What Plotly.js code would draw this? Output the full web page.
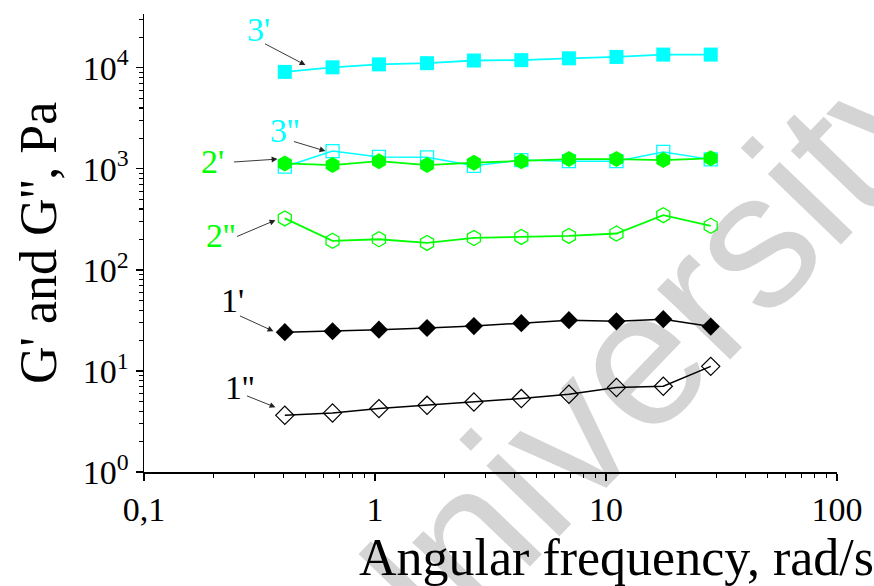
<!DOCTYPE html>
<html>
<head>
<meta charset="utf-8">
<script src="https://cdn.plot.ly/plotly-3.0.1.min.js"></script>
<style>
  html, body { margin: 0; padding: 0; background: #ffffff; }
  #wrap { position: relative; width: 874px; height: 586px; overflow: hidden; }
  #wm { position: absolute; left: 0; top: 0; z-index: 0; }
  #chart { position: absolute; left: 0; top: 0; width: 874px; height: 586px; z-index: 1; }
</style>
</head>
<body>
<div id="wrap">
<svg id="wm" width="874" height="586">
  <text x="380" y="722" transform="rotate(-46 380 722)" font-family="Liberation Sans, Arial, sans-serif" font-size="192" fill="#d4d4d4">University</text>
</svg>
<div id="chart"></div>
</div>
<script>
// Angular frequency, rad/s
const freq = [0.407, 0.655, 1.04, 1.68, 2.68, 4.30, 6.91, 11.1, 17.7, 28.4];
// Sample 1
const g1Storage = [24.2, 24.7, 25.6, 26.6, 27.8, 29.7, 31.8, 31.0, 32.5, 27.5];
const g1Loss    = [3.64, 3.84, 4.24, 4.57, 4.93, 5.33, 5.88, 6.85, 7.05, 11.1];
// Sample 2
const g2Storage = [1130, 1090, 1190, 1090, 1150, 1190, 1250, 1250, 1220, 1270];
const g2Loss    = [323, 194, 201, 185, 207, 212, 217, 229, 348, 273];
// Sample 3
const g3Storage = [9100, 10100, 10800, 11100, 11800, 11900, 12400, 12800, 13500, 13500];
const g3Loss    = [1050, 1500, 1310, 1300, 1070, 1220, 1190, 1190, 1470, 1240];

const xTickVals = [0.1, 1, 10, 100];
const xTickText = ['0,1', '1', '10', '100'];
const yTickVals = [1, 10, 100, 1000, 10000];
const yTickText = ['10<sup>0</sup>', '10<sup>1</sup>', '10<sup>2</sup>', '10<sup>3</sup>', '10<sup>4</sup>'];

const seriesLabels = ["1'", "1''", "2'", "2''", "3'", "3''"];

const CYAN = '#00FFFF', GREEN = '#00FF00', BLACK = '#000000';

function minorVals(fromExp, toExp) {
  const out = [];
  for (let e = fromExp; e < toExp; e++) {
    for (let m = 2; m <= 9; m++) out.push(m * Math.pow(10, e));
  }
  return out;
}

const traces = [
  { x: freq, y: g1Loss, name: seriesLabels[1], mode: 'lines+markers',
    line: { color: BLACK, width: 1.5 },
    marker: { symbol: 'diamond-open', size: 14, color: BLACK, line: { width: 1.2, color: BLACK } } },
  { x: freq, y: g1Storage, name: seriesLabels[0], mode: 'lines+markers',
    line: { color: BLACK, width: 1.5 },
    marker: { symbol: 'diamond', size: 14, color: BLACK } },
  { x: freq, y: g2Loss, name: seriesLabels[3], mode: 'lines+markers',
    line: { color: GREEN, width: 1.8 },
    marker: { symbol: 'hexagon-open', size: 15, color: GREEN, line: { width: 1.3, color: GREEN } } },
  { x: freq, y: g3Loss, name: seriesLabels[5], mode: 'lines+markers',
    line: { color: CYAN, width: 1.5 },
    marker: { symbol: 'square-open', size: 13, color: CYAN, line: { width: 1.3, color: CYAN } } },
  { x: freq, y: g2Storage, name: seriesLabels[2], mode: 'lines+markers',
    line: { color: GREEN, width: 1.8 },
    marker: { symbol: 'hexagon', size: 16, color: GREEN } },
  { x: freq, y: g3Storage, name: seriesLabels[4], mode: 'lines+markers',
    line: { color: CYAN, width: 1.8 },
    marker: { symbol: 'square', size: 14, color: CYAN } }
];

const serif = 'Liberation Serif, Times New Roman, serif';

// label positions (paper) and arrow tips (paper) with pixel tail offsets
const labelColors = [BLACK, BLACK, GREEN, GREEN, CYAN, CYAN];
const labelPos = [[0.1277, 0.3751], [0.1378, 0.1851], [0.0990, 0.6788], [0.1104, 0.5171], [0.1652, 0.9651], [0.2027, 0.7466]];
const arrowTip = [[0.1868, 0.3074], [0.1897, 0.1413], [0.1926, 0.6832], [0.1897, 0.5499], [0.2330, 0.8886], [0.2618, 0.7007]];
const arrowTail = [[-35, -16], [-30, -12], [-45, 3], [-40, 17], [-42, -22], [-33, -10]];

const annotations = [];
for (let i = 0; i < seriesLabels.length; i++) {
  annotations.push({
    xref: 'paper', yref: 'paper', x: labelPos[i][0], y: labelPos[i][1],
    text: seriesLabels[i], showarrow: false, xanchor: 'center', yanchor: 'middle',
    font: { family: serif, size: 34, color: labelColors[i] }
  });
  annotations.push({
    xref: 'paper', yref: 'paper', x: arrowTip[i][0], y: arrowTip[i][1],
    text: '', showarrow: true, ax: arrowTail[i][0], ay: arrowTail[i][1],
    arrowhead: 2, arrowsize: 1.3, arrowwidth: 0.9, arrowcolor: '#222222', standoff: 0, startstandoff: 0
  });
}
annotations.push({
  xref: 'paper', yref: 'paper', x: 0.6816, y: -0.186, xanchor: 'center', yanchor: 'middle',
  text: 'Angular frequency, rad/s', showarrow: false,
  font: { family: serif, size: 52, color: BLACK }
});
annotations.push({
  xref: 'paper', yref: 'paper', x: -0.153, y: 0.5, xanchor: 'center', yanchor: 'middle',
  text: "G' and G'', Pa", showarrow: false, textangle: -90,
  font: { family: serif, size: 52, color: BLACK }
});

const layout = {
  width: 874, height: 586,
  margin: { l: 144, r: 37, t: 14, b: 114 },
  paper_bgcolor: 'rgba(0,0,0,0)', plot_bgcolor: 'rgba(0,0,0,0)',
  showlegend: false,
  xaxis: {
    type: 'log', range: [-1, 2], showgrid: false, zeroline: false,
    showline: true, linecolor: BLACK, linewidth: 1.5,
    ticks: 'outside', ticklen: 7, tickwidth: 1.3, tickcolor: BLACK,
    tickmode: 'array', tickvals: xTickVals, ticktext: xTickText,
    tickfont: { family: serif, size: 34, color: BLACK },
    minor: { tickmode: 'array', tickvals: minorVals(-1, 2), ticks: 'outside', ticklen: 4, tickwidth: 1.1, tickcolor: BLACK, showgrid: false }
  },
  yaxis: {
    type: 'log', range: [0, 4.532], showgrid: false, zeroline: false,
    showline: true, linecolor: BLACK, linewidth: 1.5,
    ticks: 'outside', ticklen: 7, tickwidth: 1.3, tickcolor: BLACK,
    tickmode: 'array', tickvals: yTickVals, ticktext: yTickText,
    tickfont: { family: serif, size: 34, color: BLACK },
    minor: { tickmode: 'array', tickvals: minorVals(0, 5), ticks: 'outside', ticklen: 4, tickwidth: 1.1, tickcolor: BLACK, showgrid: false }
  },
  annotations: annotations
};

Plotly.newPlot('chart', traces, layout, { staticPlot: true, displayModeBar: false });
</script>
</body>
</html>
